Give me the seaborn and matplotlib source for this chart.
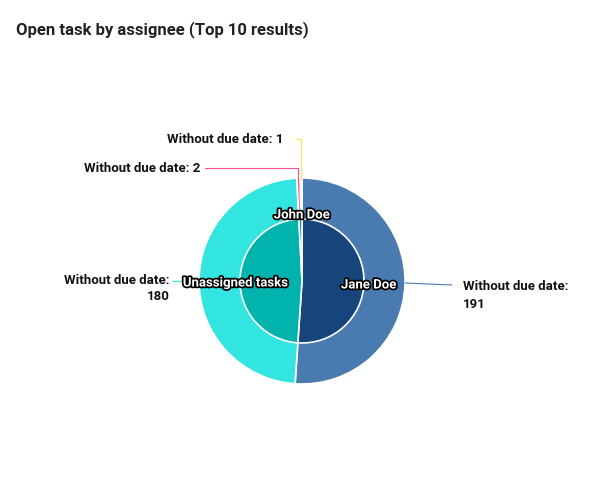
import matplotlib
matplotlib.use("Agg")
import matplotlib.pyplot as plt
import matplotlib.patheffects as pe
import seaborn as sns

sns.set_theme(style="white")
plt.rcParams['font.family'] = ['Roboto', 'DejaVu Sans']

assignees = ["Jane Doe", "Unassigned tasks", "John Doe"]
assignee_vals = [191, 180, 3]
assignee_colors = ["#15457a", "#00b3ad", "#0a8f8a"]
outer_labels = ["Without due date: 191", "Without due date: 180", "Without due date: 2", "Without due date: 1"]
outer_vals = [191, 180, 2, 1]
outer_colors = ["#4a7bb0", "#33e5e0", "#ff4d9a", "#ffe24d"]

fig = plt.figure(figsize=(6.02, 4.91), dpi=100)
ax = fig.add_axes([0, 0, 1, 1])
H = 491
cx, cy = 302, H - 281
ax.pie(outer_vals, colors=outer_colors, radius=103, center=(cx, cy), startangle=90,
       counterclock=False, wedgeprops=dict(width=42, edgecolor="white", linewidth=1.2), frame=True)
ax.pie(assignee_vals, colors=assignee_colors, radius=62, center=(cx, cy), startangle=90,
       counterclock=False, wedgeprops=dict(edgecolor="white", linewidth=1.2), frame=True)
ax.set_xlim(0, 602); ax.set_ylim(0, H); ax.set_aspect("equal"); ax.axis("off")

fx = [pe.withStroke(linewidth=2.5, foreground="black")]
for t, (x, y) in zip(assignees, [(369, 285), (236, 283), (302, 215)]):
    ax.text(x, H - y, t, color="white", fontsize=9.5, fontweight="bold", ha="center", va="center", path_effects=fx)

fig.text(16 / 602, 1 - 30 / H, "Open task by assignee (Top 10 results)", fontsize=12, fontweight="bold",
         color="#222222", va="center")

lk = dict(fontsize=9.5, fontweight="bold", color="#111111")
# Jane
ax.plot([405, 452], [H - 283, H - 285], color="#4a7bb0", lw=0.8)
ax.text(463, H - 286, "Without due date:", ha="left", va="center", **lk)
ax.text(463, H - 304, "191", ha="left", va="center", **lk)
# Unassigned
ax.plot([172, 200], [H - 281, H - 281], color="#33e5e0", lw=0.8)
ax.text(170, H - 280, "Without due date:", ha="right", va="center", **lk)
ax.text(170, H - 297, "180", ha="right", va="center", **lk)
# pink
ax.plot([205, 298, 298], [H - 168, H - 168, H - 180], color="#ff4d9a", lw=0.8)
ax.text(200, H - 168, "Without due date: 2", ha="right", va="center", **lk)
# yellow
ax.plot([296, 301, 301], [H - 139, H - 139, H - 180], color="#ffe24d", lw=0.8)
ax.text(283, H - 139, "Without due date: 1", ha="right", va="center", **lk)

fig.savefig("out.png", dpi=100)
